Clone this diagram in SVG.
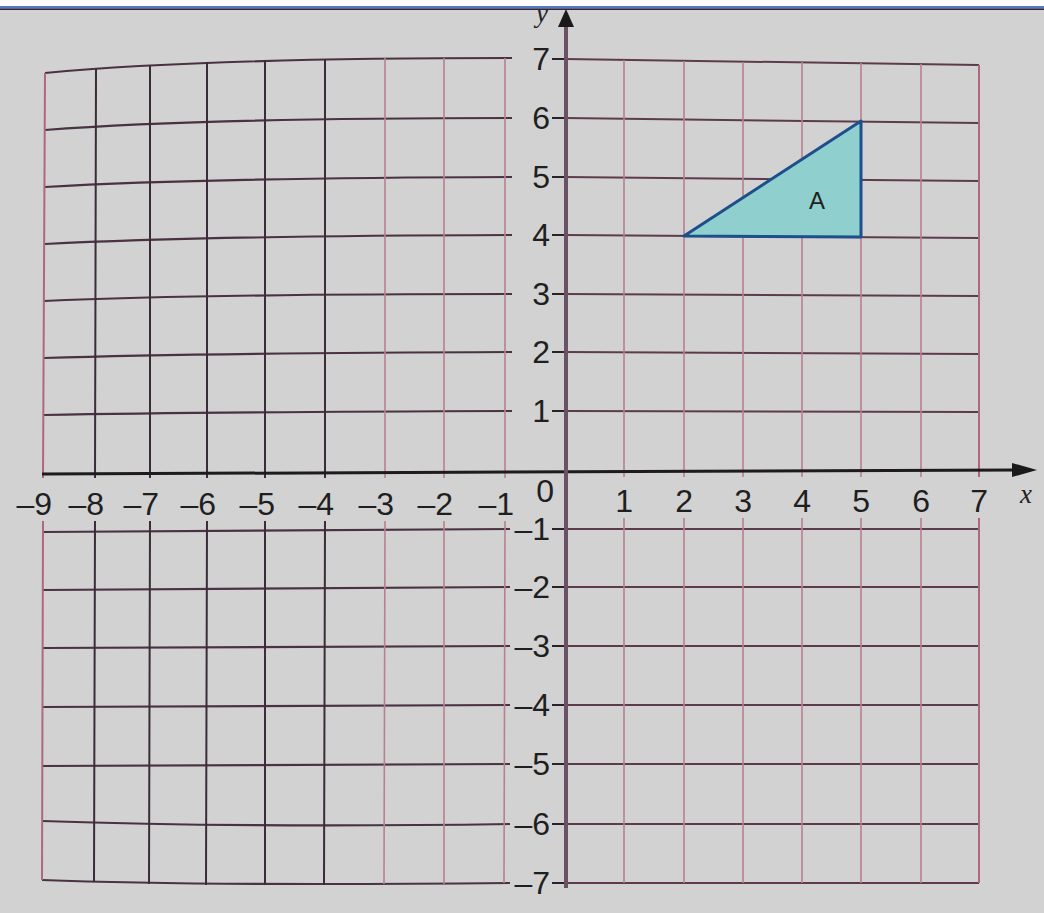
<svg xmlns="http://www.w3.org/2000/svg" width="1044" height="913" viewBox="0 0 1044 913">
<style>
.bg{fill:#d2d2d2}
.dk{stroke:#3a2c38;stroke-width:2;fill:none}
.lh{stroke:#4a3242;stroke-width:2.2;fill:none}
.pk{stroke:#b8808f;stroke-width:1.6;fill:none}
.rh{stroke:#5c3c4c;stroke-width:2;fill:none}
.bd{stroke:#b06680;stroke-width:2;fill:none}
.tk{stroke:#2a2228;stroke-width:2;fill:none}
.lbl{font-family:"Liberation Sans",Arial,sans-serif;font-size:32px;fill:#1f1f1f}
.xl{text-anchor:end}
.yl{text-anchor:end}
.it{font-family:"Liberation Serif","Times New Roman",serif;font-style:italic;font-size:27px;fill:#222}
</style>
<rect class="bg" x="0" y="0" width="1044" height="913"/>

<g id="grid">
<path class="lh" d="M45,73 Q200,58 512,58"/>
<path class="lh" d="M45,130 Q200,118 512,118"/>
<path class="lh" d="M45,187 Q200,178 512,177"/>
<path class="lh" d="M45,244 Q200,236 512,235"/>
<path class="lh" d="M44,301 Q200,294 512,294"/>
<path class="lh" d="M44,358 Q200,353 512,352"/>
<path class="lh" d="M44,415 Q200,412 512,411"/>
<path class="lh" d="M43,532 L510,529"/>
<path class="lh" d="M43,590 L510,587"/>
<path class="lh" d="M43,648 L510,646"/>
<path class="lh" d="M42,707 L510,705"/>
<path class="lh" d="M42,766 L510,764"/>
<path class="lh" d="M42,821 Q250,828 510,824"/>
<path class="lh" d="M42,880 Q200,886 510,883"/>
<path class="rh" d="M565,59 L979,65"/>
<path class="rh" d="M565,118 L979,123"/>
<path class="rh" d="M565,177 L979,181"/>
<path class="rh" d="M565,235 L979,238"/>
<path class="rh" d="M565,294 L979,296"/>
<path class="rh" d="M565,352 L979,354"/>
<path class="rh" d="M565,411 L979,412"/>
<path class="rh" d="M565,529 L979,529"/>
<path class="rh" d="M565,587 L979,587"/>
<path class="rh" d="M565,646 L979,646"/>
<path class="rh" d="M565,705 L979,705"/>
<path class="rh" d="M565,764 L979,764"/>
<path class="rh" d="M565,824 L979,824"/>
<path class="rh" d="M565,883 L979,883"/>
<path class="tk" d="M552,59 H565 M552,118 H565 M552,177 H565 M552,235 H565 M552,294 H565 M552,352 H565 M552,411 H565 M552,529 H565 M552,587 H565 M552,646 H565 M552,705 H565 M552,764 H565 M552,824 H565 M552,883 H565"/>
<path class="bd" d="M45,73 L43,478 M43,521 L42,880"/>
<path class="dk" d="M96,69 L95,478 M95,521 L94,882"/>
<path class="dk" d="M150,65 L150,478 M150,521 L149,884"/>
<path class="dk" d="M207,62 L207,478 M207,521 L206,885"/>
<path class="dk" d="M265,60 L265,478 M265,521 L265,885"/>
<path class="dk" d="M325,59 L325,478 M325,521 L324,885"/>
<path class="pk" d="M385,58 L385,478 M385,521 L384,884"/>
<path class="pk" d="M444,58 L444,478 M444,521 L444,884"/>
<path class="pk" d="M505,58 L505,478 M505,521 L504,883"/>
<path class="pk" d="M624,60 V477 M624,518 V883"/>
<path class="pk" d="M684,61 V477 M684,518 V883"/>
<path class="pk" d="M743,62 V477 M743,518 V883"/>
<path class="pk" d="M802,62 V477 M802,518 V883"/>
<path class="pk" d="M861,63 V477 M861,518 V883"/>
<path class="pk" d="M921,64 V477 M921,518 V883"/>
<path class="bd" d="M979,65 V477 M979,518 V883"/>
</g>

<g id="triangle-A">
<polygon points="684,236 861,237 861,121" fill="#8fcfcd" stroke="#1d4f8c" stroke-width="3" stroke-linejoin="round"/>
<text class="lbl" x="817" y="209" text-anchor="middle" style="font-size:24px">A</text>
</g>

<g id="axes">
<path d="M42,474 L1016,470" stroke="#1e1a1e" stroke-width="3" fill="none"/>
<polygon points="1037,470 1012,463 1012,477" fill="#1a1a1a"/>
<path d="M566,888 L566,24" stroke="#6a5264" stroke-width="4" fill="none"/>
<polygon points="566,9 558,27 574,27" fill="#1a1a1a"/>
</g>

<g id="x-labels" class="lbl xl">
<text x="52" y="515">–9</text>
<text x="104" y="515">–8</text>
<text x="159" y="515">–7</text>
<text x="216" y="515">–6</text>
<text x="275" y="515">–5</text>
<text x="334" y="515">–4</text>
<text x="394" y="515">–3</text>
<text x="453" y="515">–2</text>
<text x="514" y="515">–1</text>
<text x="554" y="502">0</text>
<text x="633" y="512">1</text>
<text x="693" y="512">2</text>
<text x="752" y="512">3</text>
<text x="811" y="512">4</text>
<text x="870" y="512">5</text>
<text x="930" y="512">6</text>
<text x="988" y="512">7</text>
</g>

<g id="y-labels" class="lbl yl">
<text x="550" y="70">7</text>
<text x="550" y="129">6</text>
<text x="550" y="188">5</text>
<text x="550" y="246">4</text>
<text x="550" y="305">3</text>
<text x="550" y="363">2</text>
<text x="550" y="422">1</text>
<text x="550" y="540">–1</text>
<text x="550" y="598">–2</text>
<text x="550" y="657">–3</text>
<text x="550" y="716">–4</text>
<text x="550" y="775">–5</text>
<text x="550" y="835">–6</text>
<text x="550" y="894">–7</text>
</g>

<g id="axis-names">
<text class="it" x="1020" y="503">x</text>
<text class="it" x="536" y="22">y</text>
</g>

<g id="header">
<rect x="0" y="0" width="1044" height="6" fill="#ffffff"/>
<rect x="0" y="6" width="1044" height="2.5" fill="#5a78c0"/>
<rect x="0" y="8.5" width="1044" height="1.5" fill="#2a2a3a"/>
</g>
</svg>
